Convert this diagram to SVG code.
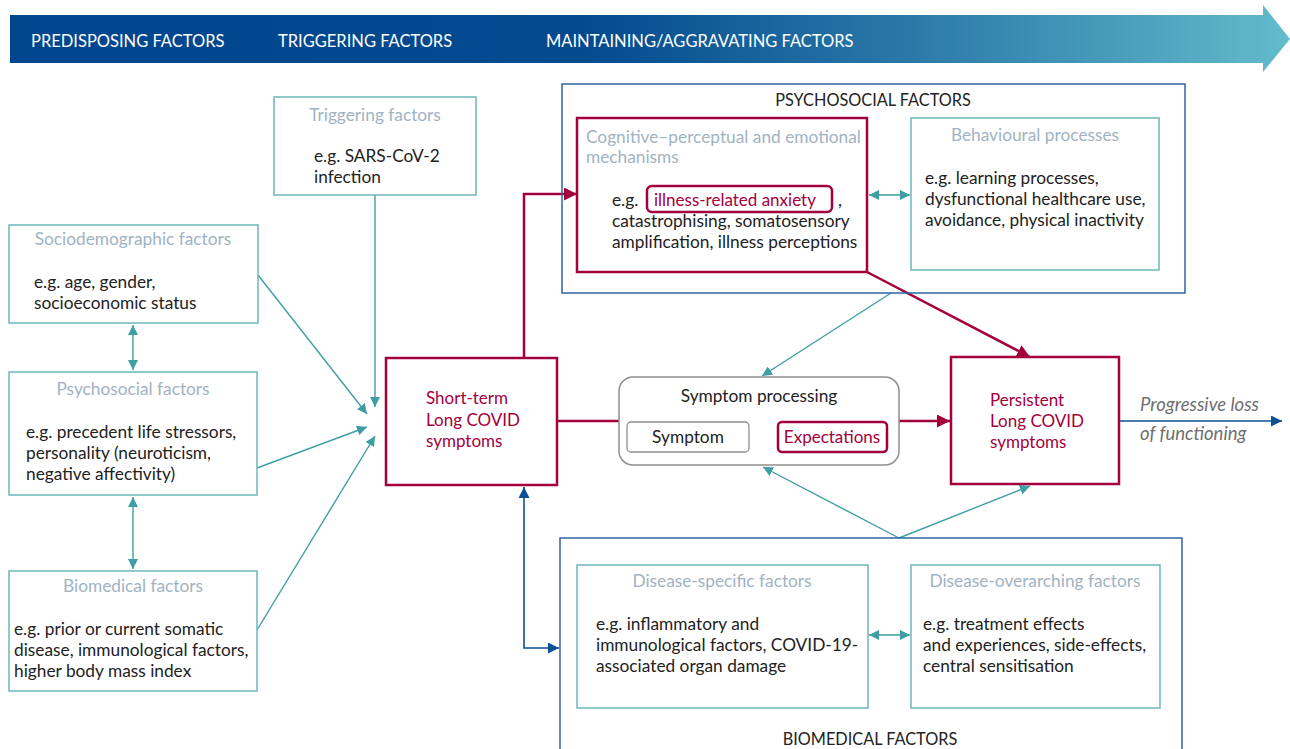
<svg xmlns="http://www.w3.org/2000/svg" width="1290" height="749" viewBox="0 0 1290 749">
<defs>
<linearGradient id="bannerGrad" x1="0" y1="0" x2="1" y2="0">
<stop offset="0" stop-color="#00468f"/>
<stop offset="0.45" stop-color="#034a8f"/>
<stop offset="0.7" stop-color="#2a78a8"/>
<stop offset="1" stop-color="#62bccb"/>
</linearGradient>
<marker id="mTeal" viewBox="0 0 10 10" refX="10" refY="5" markerWidth="10" markerHeight="10" markerUnits="userSpaceOnUse" orient="auto-start-reverse">
<path d="M0,0 L10,5 L0,10 z" fill="#3f9ea4"/>
</marker>
<marker id="mRed" viewBox="0 0 10 10" refX="10" refY="5" markerWidth="13" markerHeight="13" markerUnits="userSpaceOnUse" orient="auto-start-reverse">
<path d="M0,0 L10,5 L0,10 z" fill="#a3003c"/>
</marker>
<marker id="mBlue" viewBox="0 0 10 10" refX="10" refY="5" markerWidth="11" markerHeight="11" markerUnits="userSpaceOnUse" orient="auto-start-reverse">
<path d="M0,0 L10,5 L0,10 z" fill="#0e4f95"/>
</marker>
<marker id="mGray" viewBox="0 0 10 10" refX="10" refY="5" markerWidth="9" markerHeight="9" markerUnits="userSpaceOnUse" orient="auto-start-reverse">
<path d="M0,0 L10,5 L0,10 z" fill="#8a8a8a"/>
</marker>
</defs>
<style>
text { font-family: Lato, "Open Sans", "Liberation Sans", sans-serif; }
.banner { fill: #ffffff; font-size: 16.5px; }
.tbox { fill: #ffffff; stroke: #6db6ba; stroke-width: 1.5; }
.rbox { fill: #ffffff; stroke: #a3003c; stroke-width: 2.5; }
.obox { fill: none; stroke: #2f66a3; stroke-width: 1.5; }
.title { fill: #9fb3c3; font-size: 17.3px; }
.body { fill: #222222; font-size: 17.3px; }
.red { fill: #a3003c; font-size: 17px; }
.head { fill: #222222; font-size: 16.3px; }
.teal { stroke: #3f9ea4; stroke-width: 1.4; fill: none; }
.redl { stroke: #a3003c; stroke-width: 2.5; fill: none; }
.bluel { stroke: #0e4f95; stroke-width: 1.6; fill: none; }
.grayl { stroke: #8a8a8a; stroke-width: 1.6; fill: none; }
.ital { fill: #707070; font-size: 18.5px; font-style: italic; }
</style>
<rect width="1290" height="749" fill="#ffffff"/>

<g id="banner">
<path d="M10,15 L1263,15 L1263,5 L1290,39 L1263,72 L1263,63 L10,63 Z" fill="url(#bannerGrad)"/>
<text class="banner" x="31" y="47">PREDISPOSING FACTORS</text>
<text class="banner" x="278" y="47">TRIGGERING FACTORS</text>
<text class="banner" x="546" y="47">MAINTAINING/AGGRAVATING FACTORS</text>
</g>

<g id="connectors">
<line class="teal" x1="133" y1="325" x2="133" y2="370" marker-start="url(#mTeal)" marker-end="url(#mTeal)"/>
<line class="teal" x1="133" y1="497" x2="133" y2="569" marker-start="url(#mTeal)" marker-end="url(#mTeal)"/>
<line class="teal" x1="375" y1="195" x2="375" y2="407" marker-end="url(#mTeal)"/>
<line class="teal" x1="258" y1="275" x2="367" y2="414" marker-end="url(#mTeal)"/>
<line class="teal" x1="257" y1="468" x2="367" y2="427" marker-end="url(#mTeal)"/>
<line class="teal" x1="257" y1="630" x2="375" y2="436" marker-end="url(#mTeal)"/>
<polyline class="redl" points="524,358 524,194 577,194" marker-end="url(#mRed)"/>
<line class="redl" x1="557" y1="421" x2="619" y2="421"/>
<line class="redl" x1="899" y1="421" x2="950" y2="421" marker-end="url(#mRed)"/>
<line class="redl" x1="867" y1="272" x2="1030" y2="357" marker-end="url(#mRed)"/>
<line class="bluel" x1="1119" y1="421" x2="1282" y2="421" marker-end="url(#mBlue)"/>
<line class="teal" x1="891" y1="293" x2="762" y2="376" marker-end="url(#mTeal)"/>
<line class="teal" x1="899" y1="538" x2="763" y2="467" marker-end="url(#mTeal)"/>
<line class="teal" x1="899" y1="538" x2="1030" y2="486" marker-end="url(#mTeal)"/>
<line class="teal" x1="869" y1="195" x2="910" y2="195" marker-start="url(#mTeal)" marker-end="url(#mTeal)"/>
<line class="teal" x1="869" y1="635" x2="910" y2="635" marker-start="url(#mTeal)" marker-end="url(#mTeal)"/>
<polyline class="bluel" points="524,487 524,648 559,648" marker-start="url(#mBlue)" marker-end="url(#mBlue)"/>
<line class="grayl" x1="751" y1="437" x2="777" y2="437" marker-start="url(#mGray)" marker-end="url(#mGray)"/>
</g>

<g id="sociodemographic">
<rect class="tbox" x="9" y="225" width="249" height="98"/>
<text class="title" x="133" y="245" text-anchor="middle">Sociodemographic factors</text>
<text class="body" x="34" y="288">e.g. age, gender,</text>
<text class="body" x="34" y="309">socioeconomic status</text>
</g>

<g id="psychosocial-pre">
<rect class="tbox" x="9" y="372" width="248" height="123"/>
<text class="title" x="133" y="395" text-anchor="middle">Psychosocial factors</text>
<text class="body" x="26" y="438">e.g. precedent life stressors,</text>
<text class="body" x="26" y="459">personality (neuroticism,</text>
<text class="body" x="26" y="480">negative affectivity)</text>
</g>

<g id="biomedical-pre">
<rect class="tbox" x="9" y="571" width="248" height="120"/>
<text class="title" x="133" y="592" text-anchor="middle">Biomedical factors</text>
<text class="body" x="14" y="635">e.g. prior or current somatic</text>
<text class="body" x="14" y="656">disease, immunological factors,</text>
<text class="body" x="14" y="677">higher body mass index</text>
</g>

<g id="triggering">
<rect class="tbox" x="274" y="97" width="202" height="98"/>
<text class="title" x="375" y="121" text-anchor="middle">Triggering factors</text>
<text class="body" x="314" y="162">e.g. SARS-CoV-2</text>
<text class="body" x="314" y="183">infection</text>
</g>

<g id="short-term">
<rect class="rbox" x="386" y="358" width="171" height="127"/>
<text class="red" x="426" y="404">Short-term</text>
<text class="red" x="426" y="426">Long COVID</text>
<text class="red" x="426" y="447">symptoms</text>
</g>

<g id="psychosocial-factors">
<rect class="obox" x="562" y="84" width="623" height="209"/>
<text class="head" x="873" y="106" text-anchor="middle">PSYCHOSOCIAL FACTORS</text>
</g>

<g id="cognitive">
<rect class="rbox" x="577" y="118" width="290" height="154"/>
<text class="title" x="586" y="143">Cognitive–perceptual and emotional</text>
<text class="title" x="586" y="163">mechanisms</text>
<text class="body" x="612" y="206">e.g.</text>
<rect x="647" y="186" width="185" height="26" rx="5" fill="none" stroke="#a3003c" stroke-width="2.5"/>
<text class="red" x="654" y="206">illness-related anxiety</text>
<text class="body" x="838" y="206">,</text>
<text class="body" x="612" y="227">catastrophising, somatosensory</text>
<text class="body" x="612" y="248">amplification, illness perceptions</text>
</g>

<g id="behavioural">
<rect class="tbox" x="911" y="118" width="248" height="152"/>
<text class="title" x="1035" y="141" text-anchor="middle">Behavioural processes</text>
<text class="body" x="925" y="184">e.g. learning processes,</text>
<text class="body" x="925" y="205">dysfunctional healthcare use,</text>
<text class="body" x="925" y="226">avoidance, physical inactivity</text>
</g>

<g id="symptom-processing">
<rect x="619" y="377" width="280" height="88" rx="14" fill="#ffffff" stroke="#8f8f8f" stroke-width="1.5"/>
<text class="body" x="759" y="402" text-anchor="middle">Symptom processing</text>
<rect x="627" y="422" width="122" height="30" rx="4" fill="#ffffff" stroke="#8f8f8f" stroke-width="1.3"/>
<text class="body" x="688" y="443" text-anchor="middle">Symptom</text>
<rect x="778" y="422" width="109" height="30" rx="4" fill="#ffffff" stroke="#a3003c" stroke-width="2.5"/>
<text class="red" x="832" y="443" text-anchor="middle">Expectations</text>
</g>

<g id="persistent">
<rect class="rbox" x="951" y="357" width="168" height="127"/>
<text class="red" x="990" y="406">Persistent</text>
<text class="red" x="990" y="427">Long COVID</text>
<text class="red" x="990" y="448">symptoms</text>
</g>

<g id="progressive-loss">
<text class="ital" x="1140" y="411">Progressive loss</text>
<text class="ital" x="1140" y="440">of functioning</text>
</g>

<g id="biomedical-factors">
<rect class="obox" x="560" y="538" width="622" height="230"/>
<text class="head" x="870" y="745" text-anchor="middle">BIOMEDICAL FACTORS</text>
</g>

<g id="disease-specific">
<rect class="tbox" x="577" y="565" width="291" height="143"/>
<text class="title" x="722" y="587" text-anchor="middle">Disease-specific factors</text>
<text class="body" x="596" y="630">e.g. inflammatory and</text>
<text class="body" x="596" y="651">immunological factors, COVID-19-</text>
<text class="body" x="596" y="672">associated organ damage</text>
</g>

<g id="disease-overarching">
<rect class="tbox" x="911" y="565" width="249" height="143"/>
<text class="title" x="1035" y="587" text-anchor="middle">Disease-overarching factors</text>
<text class="body" x="923" y="630">e.g. treatment effects</text>
<text class="body" x="923" y="651">and experiences, side-effects,</text>
<text class="body" x="923" y="672">central sensitisation</text>
</g>
</svg>
